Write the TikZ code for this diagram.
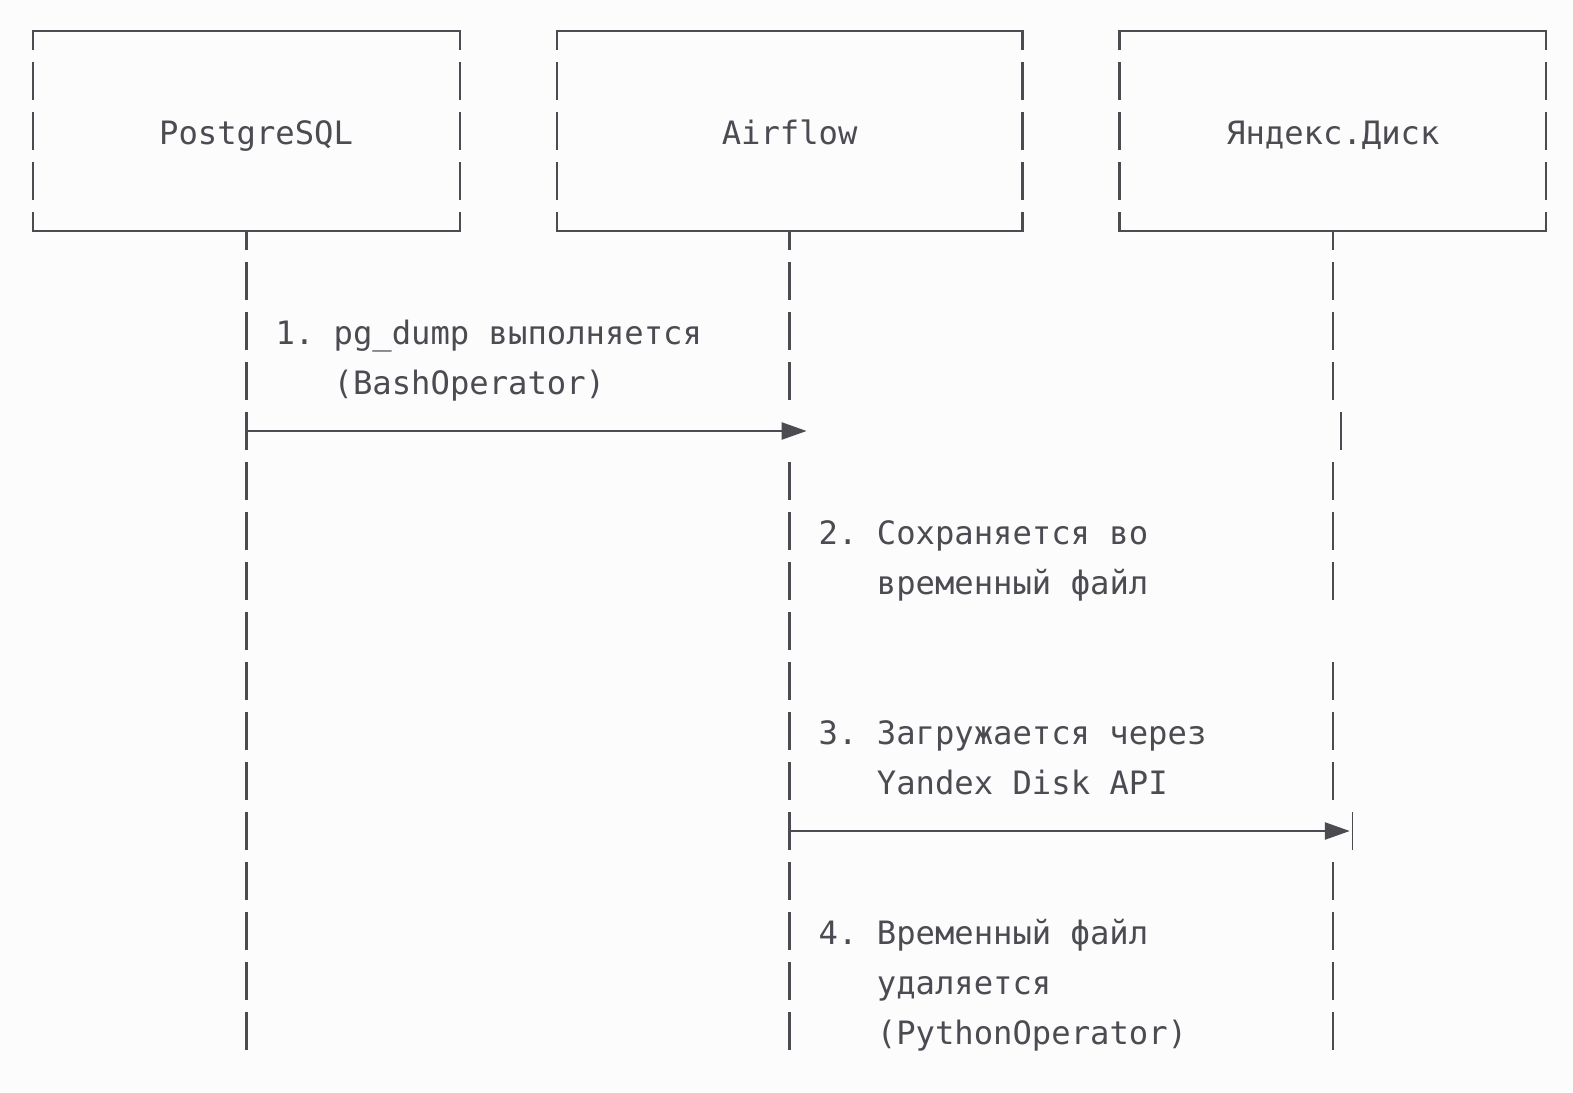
\documentclass[tikz,border=0pt]{standalone}
\usepackage{fontspec}
\setmonofont{DejaVu Sans Mono}
\usepackage{xcolor}
\usetikzlibrary{arrows.meta,positioning,calc}
\definecolor{ink}{RGB}{75,75,82}
\definecolor{paper}{RGB}{252,252,252}
\tikzset{
	x=1pt, y=-1pt, % pixel grid, y going down
	on grid,
	box/.style={minimum height=200pt, inner sep=0pt, outer sep=0pt},
	title/.style={font=\ttfamily\fontsize{32.2}{50}\selectfont, text=ink, inner sep=0pt, outer sep=0pt, anchor=base},
	mono/.style={title, anchor=base west},
	side/.style={dash pattern=on 38pt off 12pt, dash phase=19pt},
	life/.style={dash pattern=on 38pt off 12pt},
	msg/.style={-{Triangle[length=25pt,width=17pt]}},
}
\begin{document}
\begin{tikzpicture}[color=ink, line width=2.5pt]
	\useasboundingbox (0,0) rectangle (1573,1092);
	\fill[paper] (0,0) rectangle (1573,1092);

	\node[box, minimum width=426.8pt] (pg) at (246.4,131) {};
	\node[box, minimum width=465.6pt, right=543.2pt of pg] (af) {};
	\node[box, minimum width=426.8pt, right=543.2pt of af] (yd) {};

	\foreach \b in {pg,af,yd}{
		\draw[line cap=rect] (\b.north west) -- (\b.north east);
		\draw[line cap=rect] (\b.south west) -- (\b.south east);
		\draw[side] (\b.north west) -- (\b.south west);
		\draw[side] (\b.north east) -- (\b.south east);
	}

	\node[title] (pgname) at (256.1,144) {PostgreSQL};
	\node[title] (afname) at (789.6,144) {Airflow};
	\node[title] (ydname) at (1332.8,144) {Яндекс.Диск};

	% lifelines
	\draw[life, dash phase=19pt] (pg.south) -- ++(0,819);
	\draw[life, dash phase=19pt] (af.south) -- ++(0,175);
	\draw[life] ($(af.south)+(0,231)$) -- ++(0,588);
	\draw[life, dash phase=19pt] (yd.south) -- ++(0,175);
	\draw ($(yd.south)+(8,181)$) -- ++(0,38);
	\draw[life] ($(yd.south)+(0,231)$) -- ++(0,138);
	\draw[life] ($(yd.south)+(0,431)$) -- ++(0,138);
	\draw[line width=1.3pt] ($(yd.south)+(20,581)$) -- ++(0,38);
	\draw[life] ($(yd.south)+(0,631)$) -- ++(0,188);

	% messages
	\coordinate (m1) at ($(pg.south)+(0,200)$);
	\coordinate (m2) at ($(af.south)+(0,600)$);
	\draw[msg] (m1) -- ($(af.south)+(17,200)$);
	\draw[msg] (m2) -- ($(yd.south)+(17,600)$);

	\node[mono] (s1) at (275.5,344) {1. pg\_dump выполняется};
	\node[mono] (s1b) at (333.7,394) {(BashOperator)};
	\node[mono] (s2) at (818.7,544) {2. Сохраняется во};
	\node[mono] (s2b) at (876.9,594) {временный файл};
	\node[mono] (s3) at (818.7,744) {3. Загружается через};
	\node[mono] (s3b) at (876.9,794) {Yandex Disk API};
	\node[mono] (s4) at (818.7,944) {4. Временный файл};
	\node[mono] (s4b) at (876.9,994) {удаляется};
	\node[mono] (s4c) at (876.9,1044) {(PythonOperator)};
\end{tikzpicture}
\end{document}
